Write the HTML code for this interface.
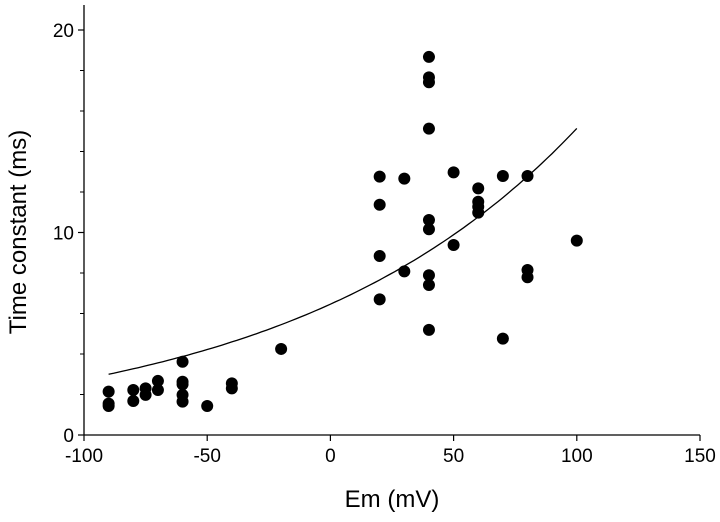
<!DOCTYPE html>
<html><head><meta charset="utf-8"><style>
html,body{margin:0;padding:0;background:#fff;}
svg{display:block;font-family:"Liberation Sans",Arial,sans-serif;}
</style></head><body>
<svg id="chart" width="720" height="522" viewBox="0 0 720 522">
<g id="axes"></g>
<g id="fit"></g>
<g id="pts"></g>
<text x="392" y="507" font-size="24" text-anchor="middle">Em (mV)</text>
<text x="0" y="0" font-size="24" text-anchor="middle" transform="translate(26,232) rotate(-90)">Time constant (ms)</text>
</svg>
<script>
const xTicks = [-100, -50, 0, 50, 100, 150];
const yTicks = [0, 10, 20];
const yMinorTicks = [2, 4, 6, 8, 12, 14, 16, 18];
const pointsX = [40,40,40,40,20,30,50,70,80,60,60,60,60,20,40,40,100,50,20,30,40,40,80,80,20,40,70,
  -90,-90,-90,-80,-80,-75,-75,-70,-70,-60,-60,-60,-60,-60,-50,-40,-40,-20];
const pointsY = [18.67,17.66,17.42,15.13,12.76,12.66,12.97,12.79,12.79,12.18,11.52,11.27,10.98,11.37,10.62,10.16,9.6,9.38,8.84,8.08,7.89,7.41,8.15,7.79,6.70,5.19,4.76,
  2.14,1.43,1.55,2.22,1.68,2.30,1.98,2.67,2.22,3.62,2.63,2.5,1.98,1.65,1.43,2.55,2.3,4.25];
const fitA = 6.46, fitK = 0.008516, fitStart = -90, fitEnd = 100;

const NS = "http://www.w3.org/2000/svg";
const X0 = 84, X1 = 700, Y0 = 435, Y1 = 30;
const xs = v => X0 + (v - (-100)) / 250 * (X1 - X0);
const ys = v => Y0 - v / 20 * (Y0 - Y1);
function mk(tag, attrs, parent) {
  const e = document.createElementNS(NS, tag);
  for (const k in attrs) e.setAttribute(k, attrs[k]);
  parent.appendChild(e);
  return e;
}
const axes = document.getElementById('axes');
let l = mk('line', {x1: X0, y1: 5, x2: X0, y2: Y0, stroke: '#000', 'stroke-width': 1.3}, axes);


l = mk('line', {x1: X0, y1: Y0, x2: X1, y2: Y0, stroke: '#000', 'stroke-width': 1.3}, axes);


xTicks.forEach(v => {
  const t = mk('line', {x1: xs(v), y1: Y0, x2: xs(v), y2: Y0 + 6, stroke: '#000', 'stroke-width': 1.2}, axes);
  
  
  const tx = mk('text', {x: xs(v), y: Y0 + 27, 'font-size': 19, 'text-anchor': 'middle'}, axes);
  tx.textContent = v;
  
  
});
yTicks.forEach(v => {
  const t = mk('line', {x1: X0 - 6, y1: ys(v), x2: X0, y2: ys(v), stroke: '#000', 'stroke-width': 1.2}, axes);
  
  
  const tx = mk('text', {x: X0 - 10, y: ys(v) + 7, 'font-size': 19, 'text-anchor': 'end'}, axes);
  tx.textContent = v;
  
  
});
yMinorTicks.forEach(v => {
  const t = mk('line', {x1: X0 - 4, y1: ys(v), x2: X0, y2: ys(v), stroke: '#000', 'stroke-width': 1}, axes);
  
  
});
let d = '';
for (let v = fitStart; v <= fitEnd; v += 2) {
  d += (d ? 'L' : 'M') + xs(v).toFixed(1) + ',' + ys(fitA * Math.exp(fitK * v)).toFixed(1);
}
const fp = mk('path', {d: d, fill: 'none', stroke: '#000', 'stroke-width': 1.3}, document.getElementById('fit'));


const pts = document.getElementById('pts');
pointsX.forEach((x, i) => {
  const c = mk('circle', {cx: xs(x), cy: ys(pointsY[i]), r: 6, fill: '#000'}, pts);
  
  
});
</script>
</body></html>
